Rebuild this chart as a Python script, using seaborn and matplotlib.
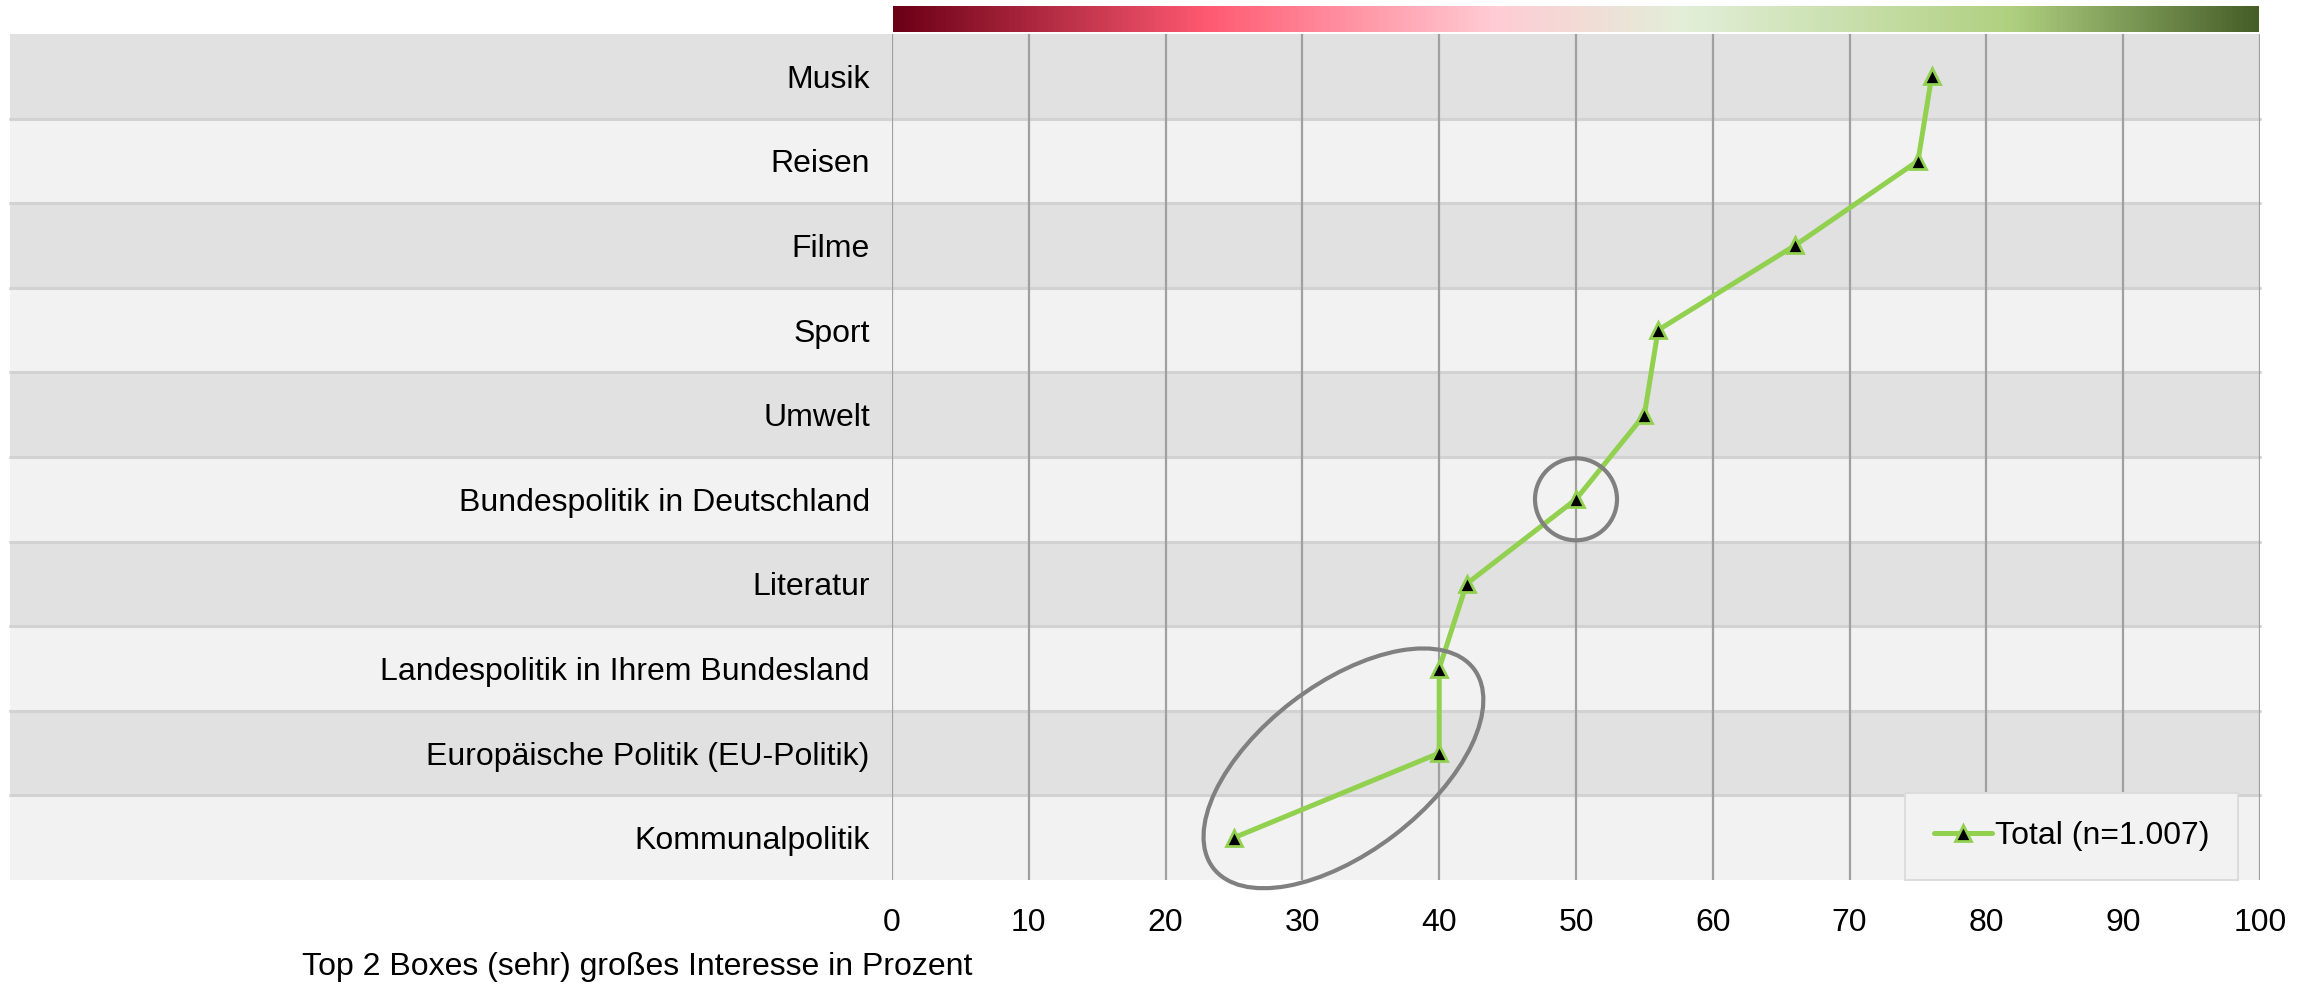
import numpy as np
import pandas as pd
import matplotlib.pyplot as plt
import seaborn as sns
from matplotlib.patches import Rectangle, Ellipse
from matplotlib.colors import LinearSegmentedColormap
from matplotlib.transforms import ScaledTranslation, blended_transform_factory

# data
themen = ['Musik', 'Reisen', 'Filme', 'Sport', 'Umwelt',
          'Bundespolitik in Deutschland', 'Literatur',
          'Landespolitik in Ihrem Bundesland',
          'Europäische Politik (EU-Politik)', 'Kommunalpolitik']
werte = [76, 75, 66, 56, 55, 50, 42, 40, 40, 25]
x_ticks = [0, 10, 20, 30, 40, 50, 60, 70, 80, 90, 100]
serie = 'Total (n=1.007)'

df = pd.DataFrame({'thema': themen, 'wert': werte, 'pos': np.arange(len(themen))})

sns.set_theme(style="white")
plt.rcParams['font.family'] = ['Liberation Sans', 'DejaVu Sans']
plt.rcParams['text.color'] = 'black'
plt.rcParams['xtick.color'] = 'black'
plt.rcParams['ytick.color'] = 'black'

fig = plt.figure(figsize=(23.12, 9.84), dpi=100)
ax = fig.add_axes([892 / 2312, 104 / 984, 1368 / 2312, 846 / 984])
ax.set_xlim(0, 100)
ax.set_ylim(len(themen) - 0.5, -0.5)

# alternating row bands, reaching into the label area
band_tr = blended_transform_factory(ax.transAxes, ax.transData)
left = (10 - 892) / 1368
for i in range(len(themen)):
    col = '#e0e1e0' if i % 2 == 0 else '#f2f2f2'
    ax.add_patch(Rectangle((left, i - 0.5), 1 - left, 1, transform=band_tr,
                           facecolor=col, edgecolor='none', clip_on=False, zorder=0))
for i in range(1, len(themen)):
    ax.plot([left, 1], [i - 0.5, i - 0.5], transform=band_tr, color='#d2d2d2',
            lw=2.2, clip_on=False, zorder=0.5)

for x in x_ticks:
    ax.axvline(x, color='#a0a0a0', lw=1.6, zorder=1)

sns.lineplot(data=df, x='wert', y='pos', sort=False, estimator=None, ax=ax,
             color='#92d050', lw=3.6, marker='^', markersize=11,
             markerfacecolor='black', markeredgecolor='#92d050',
             markeredgewidth=2, label=serie, zorder=3)

# highlight circles
circ_tr = fig.dpi_scale_trans + ScaledTranslation(50, 5, ax.transData)
ax.add_patch(Ellipse((0, 0), 0.82, 0.82, transform=circ_tr, fill=False,
                     edgecolor='#808080', lw=3, zorder=4, clip_on=False))
ell_tr = fig.dpi_scale_trans + ScaledTranslation(33.0, 8.18, ax.transData)
ax.add_patch(Ellipse((0, 0), 3.28, 1.68, angle=37.4, transform=ell_tr, fill=False,
                     edgecolor='#808080', lw=3, zorder=4, clip_on=False))

ax.set_yticks(df['pos'])
ax.set_yticklabels(themen, fontsize=23)
ax.set_xticks(x_ticks)
ax.set_xticklabels([str(x) for x in x_ticks], fontsize=23)
ax.tick_params(axis='y', length=0, pad=16)
ax.tick_params(axis='x', length=0, pad=20)
ax.set_xlabel('')
ax.set_ylabel('')
for s in ax.spines.values():
    s.set_visible(False)

leg = ax.legend(loc='lower right', bbox_to_anchor=(0.984, 0.0), borderaxespad=0,
                fontsize=23, frameon=True, facecolor='#f2f2f2', edgecolor='#dcdcdc',
                framealpha=1, fancybox=False, handlelength=1.8, handletextpad=0.1,
                borderpad=0.9)
leg.get_frame().set_linewidth(1.5)
leg.set_zorder(5)

fig.text(302 / 2312, 1 - 967 / 984, 'Top 2 Boxes (sehr) großes Interesse in Prozent',
         fontsize=23, va='center', ha='left')

# colour scale bar on top
cmap = LinearSegmentedColormap.from_list('skala', [
    (0.0, '#6b0016'), (0.23, '#ff5a72'), (0.44, '#ffccd4'),
    (0.58, '#e2efd9'), (0.82, '#b0d080'), (1.0, '#455e28')])
cax = fig.add_axes([893 / 2312, 1 - 32 / 984, 1366 / 2312, 26 / 984])
cax.imshow(np.linspace(0, 1, 512)[None, :], aspect='auto', cmap=cmap)
cax.axis('off')

fig.savefig('out.png', dpi=100)
